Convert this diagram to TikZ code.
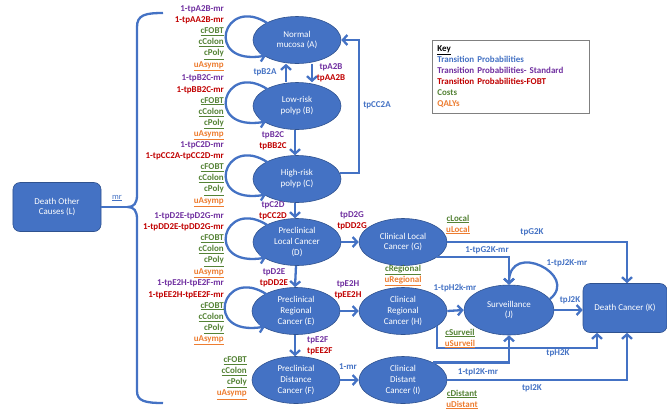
\documentclass[tikz,border=0pt]{standalone}
\usepackage{fontspec}
\setmainfont{Carlito}
\usetikzlibrary{arrows.meta,shapes.geometric,calc}

\definecolor{nodeblue}{HTML}{4472C4}
\definecolor{rimblue}{HTML}{2F528F}
\definecolor{tpblue}{HTML}{4472C4}
\definecolor{tppurple}{HTML}{7030A0}
\definecolor{tpred}{HTML}{C00000}
\definecolor{costgreen}{HTML}{548235}
\definecolor{qalyorange}{HTML}{ED7D31}
\definecolor{keygray}{HTML}{808080}

% label colour helpers
\newcommand{\tpB}[1]{\textcolor{tpblue}{#1}}
\newcommand{\tpS}[1]{\textcolor{tppurple}{#1}}
\newcommand{\tpF}[1]{\textcolor{tpred}{#1}}
\newcommand{\cst}[1]{\textcolor{costgreen}{\underline{#1}}}
\newcommand{\qal}[1]{\textcolor{qalyorange}{\underline{#1}}}

\tikzset{
  state/.style={ellipse, fill=nodeblue, draw=rimblue, line width=0.6bp,
    minimum width=88bp, minimum height=47bp, inner sep=0pt, text=white,
    align=center, font=\fontsize{9}{11}\selectfont},
  absorb/.style={rectangle, rounded corners=7bp, fill=nodeblue, draw=rimblue,
    line width=0.6bp, minimum width=88bp, minimum height=49bp, inner sep=0pt,
    text=white, align=center, font=\fontsize{9}{11}\selectfont},
  flow/.style={draw=nodeblue, line width=2.3bp,
    -{Straight Barb[length=4.5bp,width=10bp]}},
  plain/.style={draw=nodeblue, line width=2.3bp},
  lbl/.style={font=\bfseries\fontsize{9}{11.2}\selectfont, inner sep=0pt},
  keybox/.style={draw=keygray, line width=0.8bp, fill=white, anchor=north west,
    text width=147bp, minimum height=73bp, inner xsep=5bp, inner ysep=4bp,
    align=left, font=\bfseries\fontsize{9}{11}\selectfont},
}

\begin{document}
\begin{tikzpicture}[x=1bp,y=-1bp]
\useasboundingbox (0,0) rectangle (667,411);

% health states
\node[state] (A) at (297,40)  {Normal\\mucosa (A)};
\node[state] (B) at (297,106) {Low-risk\\polyp (B)};
\node[state] (C) at (297,179) {High-risk\\polyp (C)};
\node[state] (D) at (297,242) {Preclinical\\Local Cancer\\(D)};
\node[state] (E) at (296,311) {Preclinical\\Regional\\Cancer (E)};
\node[state] (F) at (296,380) {Preclinical\\Distance\\Cancer (F)};
\node[state] (G) at (403,242) {Clinical Local\\Cancer (G)};
\node[state] (H) at (403,311) {Clinical\\Regional\\Cancer (H)};
\node[state] (I) at (403,380) {Clinical\\Distant\\Cancer (I)};
\node[state, minimum width=90bp, minimum height=50bp] (J) at (509,310) {Surveillance\\(J)};
\node[absorb, minimum width=84bp] (K) at (625,308) {Death Cancer (K)};
\node[absorb] (L) at (57,207) {Death Other\\Causes (L)};

% key
\node[keybox] (key) at (432,40) {\underline{Key}\\
  \textcolor{tpblue}{Transition Probabilities}\\
  \textcolor{tppurple}{Transition Probabilities- Standard}\\
  \textcolor{tpred}{Transition Probabilities-FOBT}\\
  \textcolor{costgreen}{Costs}\\
  \textcolor{qalyorange}{QALYs}};

% self loops of the preclinical states
\foreach \s in {A,B,C,D,E}{
  \draw[flow] ($(\s)+(-29,-16.5)$) .. controls ($(\s)+(-74,-46)$) and ($(\s)+(-94,26)$) .. ($(\s)+(-31,15.6)$);
}

% vertical progression
\draw[flow] ([xshift=15bp]A.south) -- ([xshift=15bp]B.north);
\draw[flow] ([xshift=-11bp]B.north) -- ([xshift=-11bp]A.south);
\draw[flow] ([xshift=-2bp]B.south) -- ([xshift=-2bp]C.north);
\draw[flow] ([xshift=-2bp]C.south) -- ([xshift=-2bp]D.north);
\draw[flow] ([xshift=-1bp]D.south) -- ([xshift=-1bp]E.north);
\draw[flow] ([xshift=-1bp]E.south) -- ([xshift=-1bp]F.north);
\draw[flow] (C.8) -- ++(19,0) |- (A.east);

% preclinical to clinical
\draw[flow] (D.east) -- (G.west);
\draw[flow] (E.east) -- (H.west);
\draw[flow] (F.east) -- (I.west);

% clinical to surveillance and death
\draw[flow] (G.east) -| ([xshift=2bp]K.north);
\draw[flow] (G.-24) -| (J.north);
\draw[flow] (H.east) -- (J.west);
\draw[flow] (H.-24) -- ++(0,22) -| ([xshift=-28bp]K.south);
\draw[flow] (I.30) -| (J.south);
\draw[flow] (I.east) -| ([xshift=2bp]K.south);
\draw[flow] (J.east) -- (J.east -| K.west);
\draw[flow] (J.15) .. controls (580,275) and (509,240) .. (J.north);

% death from other causes
\coordinate (cusp) at (128,207);
\draw[plain] (163,13) .. controls (145,13) and (137,15) .. (137,27) -- (137,195)
  .. controls (137,203) and (134,207) .. (cusp)
  .. controls (134,207) and (137,211) .. (137,219) -- (137,391)
  .. controls (137,401) and (145,403) .. (163,403);
\draw[plain] (L.east) -- (cusp);
\node[font=\fontsize{8.5}{10}\selectfont, text=tpblue, inner sep=0pt] (mrL) at (117,198) {\underline{mr}};

% parameters attached to each preclinical state
\node[lbl, anchor=east, align=right] (pA) at (224,38)
  {\tpS{1-tpA2B-mr}\\ \tpF{1-tpAA2B-mr}\\ \cst{cFOBT}\\ \cst{cColon}\\ \cst{cPoly}\\ \qal{uAsymp}};
\node[lbl, anchor=east, align=right] (pB) at (224,107.5)
  {\tpS{1-tpB2C-mr}\\ \tpF{1-tpBB2C-mr}\\ \cst{cFOBT}\\ \cst{cColon}\\ \cst{cPoly}\\ \qal{uAsymp}};
\node[lbl, anchor=east, align=right] (pC) at (224,174)
  {\tpS{1-tpC2D-mr}\\ \tpF{1-tpCC2A-tpCC2D-mr}\\ \cst{cFOBT}\\ \cst{cColon}\\ \cst{cPoly}\\ \qal{uAsymp}};
\node[lbl, anchor=east, align=right] (pD) at (224,245)
  {\tpS{1-tpD2E-tpD2G-mr}\\ \tpF{1-tpDD2E-tpDD2G-mr}\\ \cst{cFOBT}\\ \cst{cColon}\\ \cst{cPoly}\\ \qal{uAsymp}};
\node[lbl, anchor=east, align=right] (pE) at (224,312.5)
  {\tpS{1-tpE2H-tpE2F-mr}\\ \tpF{1-tpEE2H-tpEE2F-mr}\\ \cst{cFOBT}\\ \cst{cColon}\\ \cst{cPoly}\\ \qal{uAsymp}};
\node[lbl, anchor=east, align=right] (pF) at (247,378)
  {\cst{cFOBT}\\ \cst{cColon}\\ \cst{cPoly}\\ \qal{uAsymp}};

% transition labels
\node[lbl, align=center] (lAB) at (331,73) {\tpS{tpA2B}\\ \tpF{tpAA2B}};
\node[lbl] (lBA) at (265,72) {\tpB{tpB2A}};
\node[lbl, align=center] (lBC) at (273,141) {\tpS{tpB2C}\\ \tpF{tpBB2C}};
\node[lbl, align=center] (lCD) at (273,211) {\tpS{tpC2D}\\ \tpF{tpCC2D}};
\node[lbl, align=center] (lDE) at (274,278) {\tpS{tpD2E}\\ \tpF{tpDD2E}};
\node[lbl, align=left, anchor=west] (lEF) at (307,345.5) {\tpS{tpE2F}\\ \tpF{tpEE2F}};
\node[lbl] (lCA) at (377,105) {\tpB{tpCC2A}};
\node[lbl, align=center] (lDG) at (352,220.5) {\tpS{tpD2G}\\ \tpF{tpDD2G}};
\node[lbl, align=center] (lEH) at (348,290) {\tpS{tpE2H}\\ \tpF{tpEE2H}};
\node[lbl] (lFI) at (348,367) {\tpB{1-mr}};
\node[lbl] (lGK) at (532,232) {\tpB{tpG2K}};
\node[lbl] (lGJ) at (487,250) {\tpB{1-tpG2K-mr}};
\node[lbl] (lJJ) at (567,263) {\tpB{1-tpJ2K-mr}};
\node[lbl] (lJK) at (570,300) {\tpB{tpJ2K}};
\node[lbl] (lHJ) at (455,288) {\tpB{1-tpH2k-mr}};
\node[lbl] (lHK) at (558,353) {\tpB{tpH2K}};
\node[lbl] (lIJ) at (478,372) {\tpB{1-tpI2K-mr}};
\node[lbl] (lIK) at (532,388) {\tpB{tpI2K}};

% costs and QALYs of the clinical states
\node[lbl, align=center] (cG) at (458,224.5) {\cst{cLocal}\\ \qal{uLocal}};
\node[lbl, align=center] (cH) at (403,275.5) {\cst{cRegional}\\ \qal{uRegional}};
\node[lbl, align=center] (cJ) at (460,338.5) {\cst{cSurveil}\\ \qal{uSurveil}};
\node[lbl, align=center] (cI) at (462,399.5) {\cst{cDistant}\\ \qal{uDistant}};
\end{tikzpicture}
\end{document}
